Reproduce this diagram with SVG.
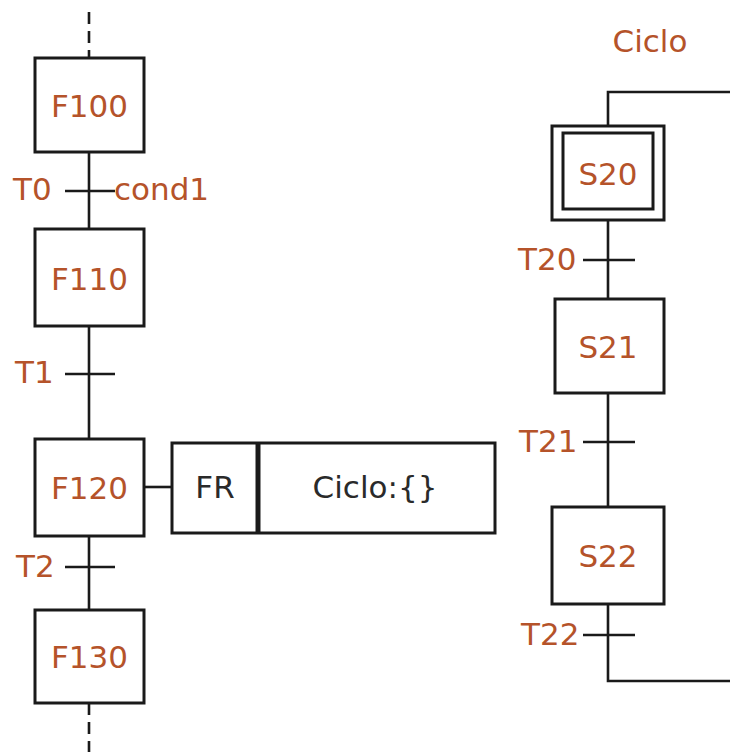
<svg xmlns="http://www.w3.org/2000/svg" width="730" height="752" viewBox="0 0 730 752">
<style>
.step{fill:#fff;stroke:#1a1a1a;stroke-width:3}
.ln{stroke:#1a1a1a;stroke-width:2.6;fill:none}
.dash{stroke:#1a1a1a;stroke-width:2.6;stroke-dasharray:12 7;fill:none}
.lbl{font-family:"DejaVu Sans",sans-serif;font-size:31px;fill:#b5532a}
.blk{font-family:"DejaVu Sans",sans-serif;font-size:31px;fill:#2a2a2a}
</style>
<rect width="730" height="752" fill="#fff"/>
<g id="connectors">
<path class="dash" d="M89 12V58"/>
<path class="ln" d="M89 152V229M89 326V439M89 536V610"/>
<path class="dash" d="M89 703V752"/>
<path class="ln" d="M65 191H115M65 374H115M65 567H115"/>
<path class="ln" d="M144 487H172"/>
<path class="ln" d="M730 92H608V126M608 220V299M608 393V507M608 604V681H730"/>
<path class="ln" d="M583 260H635M583 442H635M583 635H635"/>
</g>
<g id="F100"><rect class="step" x="35" y="58" width="109" height="94"/><text class="lbl" x="89.5" y="117" text-anchor="middle">F100</text></g>
<g id="T0"><text class="lbl" x="13" y="200">T0</text><text class="lbl" x="114" y="200">cond1</text></g>
<g id="F110"><rect class="step" x="35" y="229" width="109" height="97"/><text class="lbl" x="89.5" y="290" text-anchor="middle">F110</text></g>
<g id="T1"><text class="lbl" x="15" y="383">T1</text></g>
<g id="F120"><rect class="step" x="35" y="439" width="109" height="97"/><text class="lbl" x="89.5" y="499" text-anchor="middle">F120</text></g>
<g id="T2"><text class="lbl" x="16" y="577">T2</text></g>
<g id="F130"><rect class="step" x="35" y="610" width="109" height="93"/><text class="lbl" x="89.5" y="668" text-anchor="middle">F130</text></g>
<g id="action">
<rect class="step" x="172" y="443" width="323" height="90"/>
<path d="M258 443V533" stroke="#1a1a1a" stroke-width="5"/>
<text class="blk" x="215" y="498" text-anchor="middle">FR</text>
<text class="blk" x="375" y="498" text-anchor="middle">Ciclo:{}</text>
</g>
<g id="title"><text class="lbl" x="650" y="52" text-anchor="middle">Ciclo</text></g>
<g id="S20"><rect class="step" x="552" y="126" width="112" height="94"/><rect class="step" x="563" y="133" width="90" height="76"/><text class="lbl" x="608" y="185" text-anchor="middle">S20</text></g>
<g id="T20"><text class="lbl" x="518" y="270">T20</text></g>
<g id="S21"><rect class="step" x="555" y="299" width="109" height="94"/><text class="lbl" x="608" y="358" text-anchor="middle">S21</text></g>
<g id="T21"><text class="lbl" x="519" y="452">T21</text></g>
<g id="S22"><rect class="step" x="552" y="507" width="112" height="97"/><text class="lbl" x="608" y="567" text-anchor="middle">S22</text></g>
<g id="T22"><text class="lbl" x="521" y="645">T22</text></g>
</svg>
